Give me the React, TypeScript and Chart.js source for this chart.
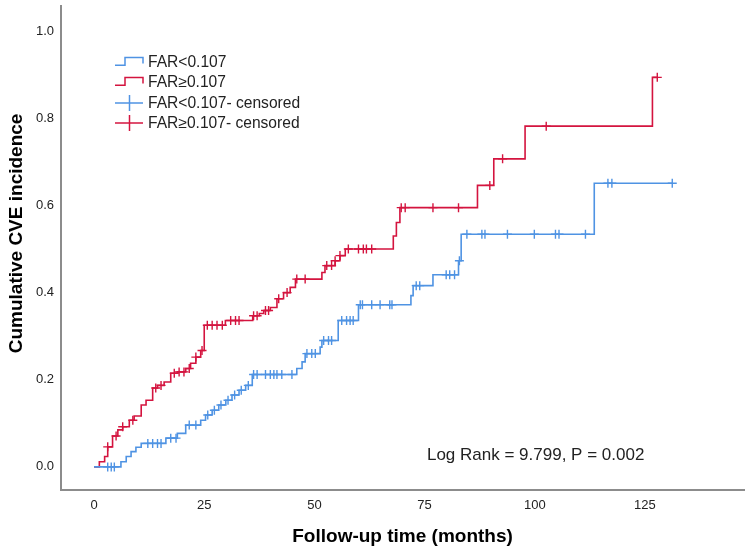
import React, { useEffect, useRef } from 'react';
import { Chart, registerables } from 'chart.js';

Chart.register(...registerables);

// ---- data ----
const lowLabel = 'FAR<0.107';
const highLabel = 'FAR≥0.107';
const censorSuffix = '- censored';
const xTitle = 'Follow-up time (months)';
const yTitle = 'Cumulative CVE incidence';
const logRankText = 'Log Rank = 9.799, P = 0.002';

const xTicks = [0, 25, 50, 75, 100, 125];
const yTicks = [0, 0.2, 0.4, 0.6, 0.8, 1.0];

const lowTimes = [0, 6.1, 7.3, 8.4, 9.5, 10.7, 16.3, 18.9, 20.8, 24.2, 25.3, 26.8, 28.3, 29.9, 31.3, 32.9, 34.4, 35.9, 46.0, 47.2, 47.9, 51.3, 51.7, 55.4, 60.0, 71.9, 72.4, 76.9, 82.7, 83.3, 113.5];
const lowCum = [0, 0.012, 0.024, 0.035, 0.045, 0.054, 0.066, 0.077, 0.096, 0.107, 0.119, 0.130, 0.142, 0.153, 0.165, 0.176, 0.187, 0.212, 0.226, 0.241, 0.26, 0.275, 0.29, 0.336, 0.372, 0.393, 0.416, 0.441, 0.473, 0.534, 0.651];
const lowCensored = [3.1, 3.9, 4.6, 12.2, 13.3, 14.4, 15.2, 17.4, 18.6, 21.6, 23.1, 25.8, 27.3, 28.8, 30.4, 31.9, 33.4, 35.0, 36.2, 37.0, 38.9, 40.0, 40.8, 41.5, 42.6, 44.9, 48.3, 49.4, 50.2, 52.1, 53.2, 53.9, 56.2, 57.3, 58.1, 58.8, 60.4, 60.9, 63.0, 64.9, 67.1, 67.6, 73.1, 73.9, 79.9, 80.7, 81.8, 82.9, 84.6, 88.0, 88.7, 93.8, 99.9, 104.7, 105.5, 111.5, 116.6, 117.5, 131.2];

const highTimes = [0, 1.2, 2.4, 3.1, 4.2, 5.4, 6.5, 8.0, 9.1, 10.7, 11.8, 13.3, 14.4, 15.9, 17.4, 18.9, 20.8, 21.9, 23.1, 24.2, 25.0, 29.8, 36.0, 37.5, 38.5, 40.0, 41.5, 43.0, 44.5, 45.7, 51.7, 52.4, 54.7, 55.8, 57.0, 67.9, 68.6, 69.4, 87.0, 90.7, 97.8, 126.7];
const highCum = [0, 0.012, 0.024, 0.046, 0.071, 0.085, 0.092, 0.107, 0.117, 0.142, 0.153, 0.181, 0.187, 0.195, 0.215, 0.218, 0.226, 0.238, 0.252, 0.267, 0.325, 0.336, 0.347, 0.352, 0.359, 0.366, 0.386, 0.4, 0.412, 0.431, 0.446, 0.462, 0.473, 0.485, 0.5, 0.53, 0.561, 0.595, 0.646, 0.707, 0.782, 0.894];
const highCensored = [3.1, 5.0, 6.5, 8.8, 14.0, 15.2, 18.2, 19.3, 20.4, 21.6, 23.1, 24.5, 25.7, 26.8, 27.9, 29.1, 31.0, 32.1, 32.9, 36.2, 37.0, 38.9, 39.6, 41.9, 43.8, 46.0, 47.9, 52.8, 53.9, 54.7, 55.8, 57.7, 60.0, 61.1, 61.8, 63.0, 69.7, 70.6, 76.9, 82.7, 89.8, 92.7, 102.6, 127.8];

const BLUE = '#4f93e3';
const RED = '#d4143f';
const FONT = '"Liberation Sans", Arial, sans-serif';

function valueAt(times: number[], vals: number[], t: number) {
  let v = vals[0];
  for (let i = 0; i < times.length; i++) if (times[i] <= t + 1e-9) v = vals[i];
  return v;
}

function curvePoints(times: number[], vals: number[], censored: number[]) {
  const pts = times.map((t, i) => ({ x: t, y: vals[i] }));
  const end = Math.max(...censored);
  if (end > times[times.length - 1]) pts.push({ x: end, y: vals[vals.length - 1] });
  return pts;
}

function censorPoints(times: number[], vals: number[], censored: number[]) {
  return censored.map((t) => ({ x: t, y: valueAt(times, vals, t) }));
}

const textPlugin = {
  id: 'kmText',
  afterDraw(chart: any) {
    const { ctx, scales, chartArea } = chart;
    ctx.save();
    ctx.font = `17px ${FONT}`;
    ctx.fillStyle = '#222';
    ctx.textAlign = 'center';
    ctx.textBaseline = 'middle';
    ctx.fillText(logRankText, scales.x.getPixelForValue(100.2), scales.y.getPixelForValue(0.027));
    // y-axis title
    ctx.font = `bold 19px ${FONT}`;
    ctx.fillStyle = '#000';
    ctx.textBaseline = 'alphabetic';
    ctx.translate(21.5, (chartArea.top + chartArea.bottom) / 2 - 14.5);
    ctx.rotate(-Math.PI / 2);
    ctx.fillText(yTitle, 0, 0);
    ctx.restore();
  },
};

function StepIcon({ color }: { color: string }) {
  return (
    <svg width="30" height="20" style={{ display: 'block', flex: 'none' }}>
      <polyline points="0,13.3 10,13.3 10,5.6 28,5.6 28,11.6" fill="none" stroke={color} strokeWidth="1.5" />
    </svg>
  );
}

function CrossIcon({ color }: { color: string }) {
  return (
    <svg width="30" height="20" style={{ display: 'block', flex: 'none' }}>
      <line x1="0" y1="10" x2="28" y2="10" stroke={color} strokeWidth="1.5" />
      <line x1="14.5" y1="2" x2="14.5" y2="18" stroke={color} strokeWidth="1.5" />
    </svg>
  );
}

export default function App() {
  const canvasRef = useRef<HTMLCanvasElement | null>(null);

  useEffect(() => {
    if (!canvasRef.current) return;
    const tickFont = { family: FONT, size: 13 };
    const titleFont = { family: FONT, size: 19, weight: 'bold' as const };
    const chart = new Chart(canvasRef.current, {
      type: 'line',
      data: {
        datasets: [
          {
            label: lowLabel,
            data: curvePoints(lowTimes, lowCum, lowCensored),
            borderColor: BLUE,
            borderWidth: 1.6,
            stepped: true,
            pointRadius: 0,
            fill: false,
          },
          {
            label: highLabel,
            data: curvePoints(highTimes, highCum, highCensored),
            borderColor: RED,
            borderWidth: 1.6,
            stepped: true,
            pointRadius: 0,
            fill: false,
          },
          {
            label: lowLabel + censorSuffix,
            data: censorPoints(lowTimes, lowCum, lowCensored),
            showLine: false,
            pointStyle: 'cross',
            pointRadius: 4.5,
            pointBorderWidth: 1.4,
            borderColor: BLUE,
            pointBorderColor: BLUE,
          },
          {
            label: highLabel + censorSuffix,
            data: censorPoints(highTimes, highCum, highCensored),
            showLine: false,
            pointStyle: 'cross',
            pointRadius: 4.5,
            pointBorderWidth: 1.4,
            borderColor: RED,
            pointBorderColor: RED,
          },
        ],
      },
      options: {
        animation: false,
        responsive: true,
        maintainAspectRatio: false,
        layout: { padding: { top: 4, right: 3, left: 0, bottom: 0 } },
        plugins: { legend: { display: false }, tooltip: { enabled: false } },
        scales: {
          x: {
            type: 'linear',
            min: -7.5,
            max: 147.5,
            grid: { display: false, drawTicks: false, tickLength: 0 },
            border: { display: true, color: '#8c8c8c', width: 2 },
            afterFit: (s: any) => { s.height = 63; s.paddingLeft = 0; s.paddingRight = 0; },
            afterBuildTicks: (s: any) => { s.ticks = xTicks.map((v) => ({ value: v })); },
            ticks: { padding: 8, font: tickFont, color: '#222', maxRotation: 0, autoSkip: false },
            title: { display: true, text: xTitle, font: titleFont, color: '#000', padding: { top: 0, bottom: 5 } },
          },
          y: {
            type: 'linear',
            min: -0.053,
            max: 1.058,
            grid: { display: false, drawTicks: false, tickLength: 0 },
            border: { display: true, color: '#8c8c8c', width: 2 },
            afterFit: (s: any) => { s.width = 61; s.paddingTop = 0; s.paddingBottom = 0; },
            afterBuildTicks: (s: any) => { s.ticks = yTicks.map((v) => ({ value: v })); },
            ticks: { padding: 7, font: tickFont, color: '#222', callback: (v: any) => Number(v).toFixed(1) },
            title: { display: false, text: yTitle },
          },
        },
      },
      plugins: [textPlugin],
    });
    return () => chart.destroy();
  }, []);

  const rows = [
    { icon: <StepIcon color={BLUE} />, text: lowLabel },
    { icon: <StepIcon color={RED} />, text: highLabel },
    { icon: <CrossIcon color={BLUE} />, text: lowLabel + censorSuffix },
    { icon: <CrossIcon color={RED} />, text: highLabel + censorSuffix },
  ];

  return (
    <div style={{ position: 'fixed', left: 0, top: 0, width: 750, height: 553, background: '#fff' }}>
      <canvas ref={canvasRef} />
      <div style={{ position: 'absolute', left: 115, top: 51.5, fontFamily: FONT, fontSize: 15.6, color: '#222' }}>
        {rows.map((r, i) => (
          <div key={i} style={{ display: 'flex', alignItems: 'center', height: 20.5 }}>
            {r.icon}
            <span style={{ marginLeft: 3, whiteSpace: 'nowrap' }}>{r.text}</span>
          </div>
        ))}
      </div>
    </div>
  );
}
